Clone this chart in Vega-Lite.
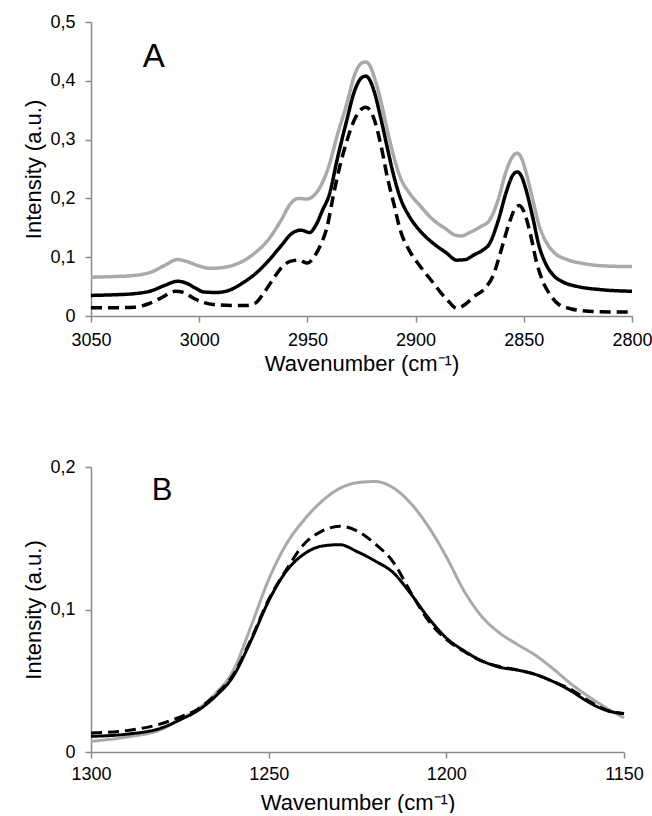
{
  "$schema": "https://vega.github.io/schema/vega-lite/v6.json",
  "padding": {"left": 22, "top": 13, "right": 0, "bottom": 0},
  "background": "white",
  "bounds": "flush",
  "spacing": 151,
  "config": {
    "font": "Liberation Sans",
    "view": {"stroke": null},
    "axis": {
      "grid": false,
      "domainColor": "#8a8a8a",
      "domainWidth": 1.5,
      "tickColor": "#8a8a8a",
      "tickWidth": 1.5,
      "tickSize": 6,
      "labelFont": "Liberation Sans",
      "labelFontSize": 18,
      "labelColor": "#000000",
      "labelFlush": false,
      "labelOverlap": false,
      "titleFont": "Liberation Sans",
      "titleFontSize": 22,
      "titleFontWeight": "normal",
      "titleColor": "#000000"
    }
  },
  "datasets": {
    "A": [
      {"s": "S1", "w": 3050, "I": 0.066}, {"s": "S1", "w": 3040, "I": 0.067}, {"s": "S1", "w": 3030, "I": 0.069}, {"s": "S1", "w": 3022, "I": 0.075}, {"s": "S1", "w": 3016, "I": 0.086}, {"s": "S1", "w": 3010, "I": 0.096}, {"s": "S1", "w": 3006, "I": 0.093}, {"s": "S1", "w": 3000, "I": 0.085}, {"s": "S1", "w": 2995, "I": 0.081}, {"s": "S1", "w": 2988, "I": 0.083}, {"s": "S1", "w": 2980, "I": 0.093}, {"s": "S1", "w": 2974, "I": 0.108}, {"s": "S1", "w": 2968, "I": 0.13}, {"s": "S1", "w": 2962, "I": 0.164}, {"s": "S1", "w": 2958, "I": 0.19}, {"s": "S1", "w": 2954, "I": 0.2}, {"s": "S1", "w": 2950, "I": 0.199}, {"s": "S1", "w": 2947, "I": 0.205}, {"s": "S1", "w": 2944, "I": 0.22}, {"s": "S1", "w": 2940, "I": 0.256}, {"s": "S1", "w": 2936, "I": 0.31}, {"s": "S1", "w": 2932, "I": 0.358}, {"s": "S1", "w": 2928, "I": 0.412}, {"s": "S1", "w": 2925, "I": 0.43}, {"s": "S1", "w": 2923, "I": 0.432}, {"s": "S1", "w": 2921, "I": 0.425}, {"s": "S1", "w": 2919, "I": 0.405}, {"s": "S1", "w": 2916, "I": 0.365}, {"s": "S1", "w": 2913, "I": 0.315}, {"s": "S1", "w": 2910, "I": 0.27}, {"s": "S1", "w": 2907, "I": 0.235}, {"s": "S1", "w": 2903, "I": 0.21}, {"s": "S1", "w": 2898, "I": 0.188}, {"s": "S1", "w": 2892, "I": 0.164}, {"s": "S1", "w": 2886, "I": 0.148}, {"s": "S1", "w": 2882, "I": 0.138}, {"s": "S1", "w": 2879, "I": 0.136}, {"s": "S1", "w": 2875, "I": 0.142}, {"s": "S1", "w": 2870, "I": 0.152}, {"s": "S1", "w": 2866, "I": 0.162}, {"s": "S1", "w": 2862, "I": 0.196}, {"s": "S1", "w": 2858, "I": 0.248}, {"s": "S1", "w": 2855, "I": 0.272}, {"s": "S1", "w": 2853, "I": 0.277}, {"s": "S1", "w": 2851, "I": 0.268}, {"s": "S1", "w": 2849, "I": 0.245}, {"s": "S1", "w": 2846, "I": 0.2}, {"s": "S1", "w": 2843, "I": 0.155}, {"s": "S1", "w": 2840, "I": 0.128}, {"s": "S1", "w": 2836, "I": 0.108}, {"s": "S1", "w": 2830, "I": 0.096}, {"s": "S1", "w": 2822, "I": 0.089}, {"s": "S1", "w": 2812, "I": 0.085}, {"s": "S1", "w": 2800, "I": 0.084},
      {"s": "S2", "w": 3050, "I": 0.035}, {"s": "S2", "w": 3040, "I": 0.036}, {"s": "S2", "w": 3030, "I": 0.038}, {"s": "S2", "w": 3022, "I": 0.043}, {"s": "S2", "w": 3016, "I": 0.052}, {"s": "S2", "w": 3010, "I": 0.059}, {"s": "S2", "w": 3006, "I": 0.056}, {"s": "S2", "w": 3002, "I": 0.048}, {"s": "S2", "w": 2998, "I": 0.041}, {"s": "S2", "w": 2992, "I": 0.04}, {"s": "S2", "w": 2986, "I": 0.044}, {"s": "S2", "w": 2980, "I": 0.056}, {"s": "S2", "w": 2974, "I": 0.072}, {"s": "S2", "w": 2968, "I": 0.094}, {"s": "S2", "w": 2962, "I": 0.12}, {"s": "S2", "w": 2957, "I": 0.141}, {"s": "S2", "w": 2953, "I": 0.146}, {"s": "S2", "w": 2949, "I": 0.142}, {"s": "S2", "w": 2946, "I": 0.155}, {"s": "S2", "w": 2943, "I": 0.18}, {"s": "S2", "w": 2940, "I": 0.205}, {"s": "S2", "w": 2936, "I": 0.27}, {"s": "S2", "w": 2932, "I": 0.33}, {"s": "S2", "w": 2928, "I": 0.385}, {"s": "S2", "w": 2925, "I": 0.405}, {"s": "S2", "w": 2923, "I": 0.408}, {"s": "S2", "w": 2921, "I": 0.4}, {"s": "S2", "w": 2919, "I": 0.38}, {"s": "S2", "w": 2916, "I": 0.335}, {"s": "S2", "w": 2913, "I": 0.285}, {"s": "S2", "w": 2910, "I": 0.237}, {"s": "S2", "w": 2907, "I": 0.2}, {"s": "S2", "w": 2903, "I": 0.17}, {"s": "S2", "w": 2898, "I": 0.145}, {"s": "S2", "w": 2892, "I": 0.124}, {"s": "S2", "w": 2886, "I": 0.108}, {"s": "S2", "w": 2881, "I": 0.095}, {"s": "S2", "w": 2877, "I": 0.096}, {"s": "S2", "w": 2873, "I": 0.104}, {"s": "S2", "w": 2869, "I": 0.112}, {"s": "S2", "w": 2866, "I": 0.122}, {"s": "S2", "w": 2862, "I": 0.16}, {"s": "S2", "w": 2858, "I": 0.212}, {"s": "S2", "w": 2855, "I": 0.24}, {"s": "S2", "w": 2853, "I": 0.245}, {"s": "S2", "w": 2851, "I": 0.237}, {"s": "S2", "w": 2849, "I": 0.215}, {"s": "S2", "w": 2846, "I": 0.17}, {"s": "S2", "w": 2843, "I": 0.12}, {"s": "S2", "w": 2840, "I": 0.09}, {"s": "S2", "w": 2836, "I": 0.068}, {"s": "S2", "w": 2832, "I": 0.058}, {"s": "S2", "w": 2825, "I": 0.05}, {"s": "S2", "w": 2815, "I": 0.045}, {"s": "S2", "w": 2800, "I": 0.042},
      {"s": "S3", "w": 3050, "I": 0.014}, {"s": "S3", "w": 3040, "I": 0.014}, {"s": "S3", "w": 3030, "I": 0.015}, {"s": "S3", "w": 3024, "I": 0.02}, {"s": "S3", "w": 3018, "I": 0.03}, {"s": "S3", "w": 3011, "I": 0.042}, {"s": "S3", "w": 3007, "I": 0.04}, {"s": "S3", "w": 3003, "I": 0.031}, {"s": "S3", "w": 2998, "I": 0.023}, {"s": "S3", "w": 2992, "I": 0.019}, {"s": "S3", "w": 2985, "I": 0.018}, {"s": "S3", "w": 2978, "I": 0.018}, {"s": "S3", "w": 2974, "I": 0.022}, {"s": "S3", "w": 2970, "I": 0.04}, {"s": "S3", "w": 2966, "I": 0.062}, {"s": "S3", "w": 2962, "I": 0.082}, {"s": "S3", "w": 2958, "I": 0.093}, {"s": "S3", "w": 2954, "I": 0.095}, {"s": "S3", "w": 2950, "I": 0.09}, {"s": "S3", "w": 2947, "I": 0.1}, {"s": "S3", "w": 2944, "I": 0.12}, {"s": "S3", "w": 2941, "I": 0.15}, {"s": "S3", "w": 2938, "I": 0.205}, {"s": "S3", "w": 2935, "I": 0.255}, {"s": "S3", "w": 2932, "I": 0.295}, {"s": "S3", "w": 2928, "I": 0.336}, {"s": "S3", "w": 2925, "I": 0.352}, {"s": "S3", "w": 2923, "I": 0.355}, {"s": "S3", "w": 2921, "I": 0.35}, {"s": "S3", "w": 2919, "I": 0.333}, {"s": "S3", "w": 2916, "I": 0.29}, {"s": "S3", "w": 2913, "I": 0.235}, {"s": "S3", "w": 2910, "I": 0.19}, {"s": "S3", "w": 2907, "I": 0.145}, {"s": "S3", "w": 2903, "I": 0.112}, {"s": "S3", "w": 2898, "I": 0.085}, {"s": "S3", "w": 2892, "I": 0.057}, {"s": "S3", "w": 2888, "I": 0.038}, {"s": "S3", "w": 2885, "I": 0.026}, {"s": "S3", "w": 2881, "I": 0.013}, {"s": "S3", "w": 2877, "I": 0.02}, {"s": "S3", "w": 2873, "I": 0.033}, {"s": "S3", "w": 2868, "I": 0.047}, {"s": "S3", "w": 2864, "I": 0.07}, {"s": "S3", "w": 2861, "I": 0.105}, {"s": "S3", "w": 2857, "I": 0.155}, {"s": "S3", "w": 2854, "I": 0.183}, {"s": "S3", "w": 2852, "I": 0.188}, {"s": "S3", "w": 2850, "I": 0.178}, {"s": "S3", "w": 2847, "I": 0.14}, {"s": "S3", "w": 2844, "I": 0.09}, {"s": "S3", "w": 2841, "I": 0.057}, {"s": "S3", "w": 2838, "I": 0.037}, {"s": "S3", "w": 2834, "I": 0.02}, {"s": "S3", "w": 2828, "I": 0.012}, {"s": "S3", "w": 2820, "I": 0.008}, {"s": "S3", "w": 2810, "I": 0.007}, {"s": "S3", "w": 2800, "I": 0.007}
    ],
    "B": [
      {"s": "S1", "w": 1300, "I": 0.0075}, {"s": "S1", "w": 1290, "I": 0.0105}, {"s": "S1", "w": 1280, "I": 0.016}, {"s": "S1", "w": 1275, "I": 0.023}, {"s": "S1", "w": 1270, "I": 0.03}, {"s": "S1", "w": 1265, "I": 0.041}, {"s": "S1", "w": 1260, "I": 0.057}, {"s": "S1", "w": 1255, "I": 0.088}, {"s": "S1", "w": 1250, "I": 0.121}, {"s": "S1", "w": 1245, "I": 0.146}, {"s": "S1", "w": 1240, "I": 0.163}, {"s": "S1", "w": 1235, "I": 0.176}, {"s": "S1", "w": 1230, "I": 0.185}, {"s": "S1", "w": 1225, "I": 0.189}, {"s": "S1", "w": 1220, "I": 0.1898}, {"s": "S1", "w": 1215, "I": 0.1855}, {"s": "S1", "w": 1210, "I": 0.1745}, {"s": "S1", "w": 1205, "I": 0.158}, {"s": "S1", "w": 1200, "I": 0.137}, {"s": "S1", "w": 1195, "I": 0.113}, {"s": "S1", "w": 1190, "I": 0.095}, {"s": "S1", "w": 1185, "I": 0.0835}, {"s": "S1", "w": 1180, "I": 0.0755}, {"s": "S1", "w": 1175, "I": 0.068}, {"s": "S1", "w": 1170, "I": 0.0585}, {"s": "S1", "w": 1165, "I": 0.048}, {"s": "S1", "w": 1160, "I": 0.039}, {"s": "S1", "w": 1155, "I": 0.031}, {"s": "S1", "w": 1150, "I": 0.024},
      {"s": "S2", "w": 1300, "I": 0.011}, {"s": "S2", "w": 1290, "I": 0.0125}, {"s": "S2", "w": 1280, "I": 0.017}, {"s": "S2", "w": 1275, "I": 0.0225}, {"s": "S2", "w": 1270, "I": 0.029}, {"s": "S2", "w": 1265, "I": 0.039}, {"s": "S2", "w": 1260, "I": 0.053}, {"s": "S2", "w": 1255, "I": 0.078}, {"s": "S2", "w": 1250, "I": 0.106}, {"s": "S2", "w": 1245, "I": 0.127}, {"s": "S2", "w": 1240, "I": 0.139}, {"s": "S2", "w": 1235, "I": 0.1445}, {"s": "S2", "w": 1230, "I": 0.1455}, {"s": "S2", "w": 1225, "I": 0.1405}, {"s": "S2", "w": 1220, "I": 0.134}, {"s": "S2", "w": 1215, "I": 0.126}, {"s": "S2", "w": 1210, "I": 0.111}, {"s": "S2", "w": 1205, "I": 0.094}, {"s": "S2", "w": 1200, "I": 0.08}, {"s": "S2", "w": 1195, "I": 0.071}, {"s": "S2", "w": 1190, "I": 0.064}, {"s": "S2", "w": 1185, "I": 0.0595}, {"s": "S2", "w": 1180, "I": 0.0575}, {"s": "S2", "w": 1175, "I": 0.0545}, {"s": "S2", "w": 1170, "I": 0.0495}, {"s": "S2", "w": 1165, "I": 0.043}, {"s": "S2", "w": 1160, "I": 0.035}, {"s": "S2", "w": 1155, "I": 0.0292}, {"s": "S2", "w": 1150, "I": 0.0269},
      {"s": "S3", "w": 1300, "I": 0.0134}, {"s": "S3", "w": 1290, "I": 0.015}, {"s": "S3", "w": 1280, "I": 0.02}, {"s": "S3", "w": 1275, "I": 0.0245}, {"s": "S3", "w": 1270, "I": 0.03}, {"s": "S3", "w": 1265, "I": 0.04}, {"s": "S3", "w": 1260, "I": 0.054}, {"s": "S3", "w": 1255, "I": 0.079}, {"s": "S3", "w": 1250, "I": 0.107}, {"s": "S3", "w": 1245, "I": 0.128}, {"s": "S3", "w": 1240, "I": 0.146}, {"s": "S3", "w": 1235, "I": 0.155}, {"s": "S3", "w": 1230, "I": 0.1585}, {"s": "S3", "w": 1225, "I": 0.155}, {"s": "S3", "w": 1220, "I": 0.146}, {"s": "S3", "w": 1215, "I": 0.1335}, {"s": "S3", "w": 1210, "I": 0.112}, {"s": "S3", "w": 1205, "I": 0.092}, {"s": "S3", "w": 1200, "I": 0.079}, {"s": "S3", "w": 1195, "I": 0.0705}, {"s": "S3", "w": 1190, "I": 0.0637}, {"s": "S3", "w": 1185, "I": 0.06}, {"s": "S3", "w": 1180, "I": 0.0575}, {"s": "S3", "w": 1175, "I": 0.0545}, {"s": "S3", "w": 1170, "I": 0.0495}, {"s": "S3", "w": 1165, "I": 0.044}, {"s": "S3", "w": 1160, "I": 0.036}, {"s": "S3", "w": 1155, "I": 0.0295}, {"s": "S3", "w": 1150, "I": 0.027}
    ]
  },
  "vconcat": [
    {
      "width": 541,
      "height": 294,
      "layer": [
        {
          "data": {"name": "A"},
          "mark": {"type": "line", "interpolate": "monotone", "strokeWidth": 3.5, "strokeCap": "butt"},
          "encoding": {
            "x": {"field": "w", "type": "quantitative",
              "scale": {"domain": [2800, 3050], "reverse": true, "nice": false, "zero": false},
              "axis": {"values": [3050, 3000, 2950, 2900, 2850, 2800], "format": "d", "title": "Wavenumber (cm⁻¹)", "labelPadding": 9, "titlePadding": 4}},
            "y": {"field": "I", "type": "quantitative",
              "scale": {"domain": [0, 0.5], "nice": false},
              "axis": {"values": [0, 0.1, 0.2, 0.3, 0.4, 0.5], "labelExpr": "datum.value == 0 ? '0' : replace(format(datum.value, '.1f'), '.', ',')", "title": "Intensity (a.u.)", "labelPadding": 10, "titlePadding": 4}},
            "color": {"field": "s", "type": "nominal", "scale": {"domain": ["S1", "S2", "S3"], "range": ["#a9a9a9", "#000000", "#000000"]}, "legend": null},
            "strokeDash": {"field": "s", "type": "nominal", "scale": {"domain": ["S1", "S2", "S3"], "range": [[1, 0], [1, 0], [11, 6]]}, "legend": null}
          }
        },
        {
          "data": {"values": [{"label": "A", "w": 3021, "I": 0.44}]},
          "mark": {"type": "text", "fontSize": 33, "font": "Liberation Sans", "color": "#000000", "align": "center", "baseline": "middle"},
          "encoding": {
            "x": {"field": "w", "type": "quantitative"},
            "y": {"field": "I", "type": "quantitative"},
            "text": {"field": "label"}
          }
        }
      ]
    },
    {
      "width": 533,
      "height": 285,
      "layer": [
        {
          "data": {"name": "B"},
          "mark": {"type": "line", "interpolate": "monotone", "strokeWidth": 3, "strokeCap": "butt"},
          "encoding": {
            "x": {"field": "w", "type": "quantitative",
              "scale": {"domain": [1150, 1300], "reverse": true, "nice": false, "zero": false},
              "axis": {"values": [1300, 1250, 1200, 1150], "format": "d", "title": "Wavenumber (cm⁻¹)", "labelPadding": 7, "titlePadding": 9}},
            "y": {"field": "I", "type": "quantitative",
              "scale": {"domain": [0, 0.2], "nice": false},
              "axis": {"values": [0, 0.1, 0.2], "labelExpr": "datum.value == 0 ? '0' : replace(format(datum.value, '.1f'), '.', ',')", "title": "Intensity (a.u.)", "labelPadding": 10, "titlePadding": 4}},
            "color": {"field": "s", "type": "nominal", "scale": {"domain": ["S1", "S2", "S3"], "range": ["#a9a9a9", "#000000", "#000000"]}, "legend": null},
            "strokeDash": {"field": "s", "type": "nominal", "scale": {"domain": ["S1", "S2", "S3"], "range": [[1, 0], [1, 0], [12, 9]]}, "legend": null}
          }
        },
        {
          "data": {"values": [{"label": "B", "w": 1280, "I": 0.183}]},
          "mark": {"type": "text", "fontSize": 31, "font": "Liberation Sans", "color": "#000000", "align": "center", "baseline": "middle"},
          "encoding": {
            "x": {"field": "w", "type": "quantitative"},
            "y": {"field": "I", "type": "quantitative"},
            "text": {"field": "label"}
          }
        }
      ]
    }
  ]
}
